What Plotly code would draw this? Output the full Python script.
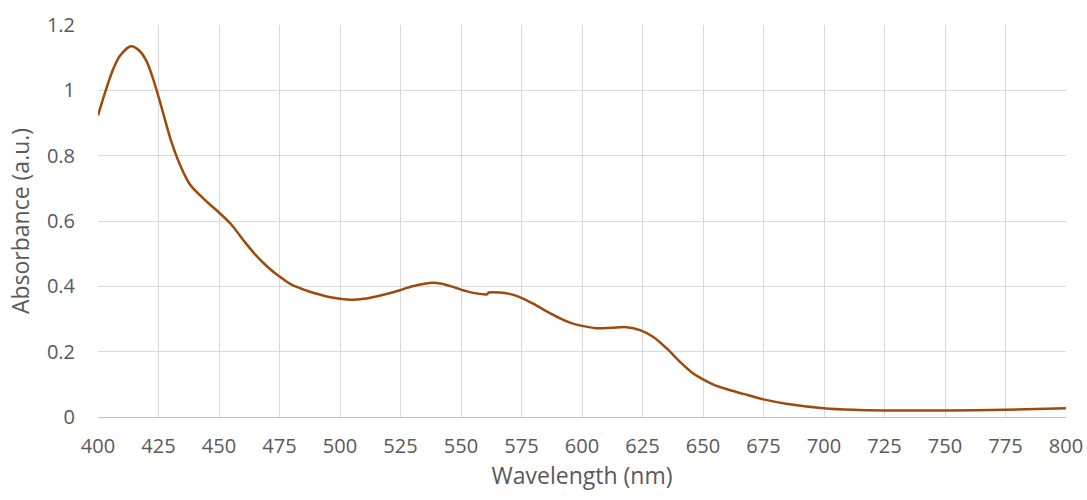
import plotly.graph_objects as go

wavelength = [400, 403, 406, 409, 413.6, 417, 420, 423, 426, 430, 434, 438, 442, 446, 450,
              455, 460, 465, 470, 475, 480, 485, 490, 495, 500, 505, 510, 515, 520,
              525, 530, 535, 538.5, 542, 546, 550, 555, 559, 560.6, 561.5, 566, 570, 574,
              580, 585, 591, 595, 600, 606, 612, 618.4, 624, 629.5, 635, 640.5, 646, 650,
              655, 660, 667, 675, 685, 700, 712, 725, 750, 775, 800]
absorbance = [0.923, 0.995, 1.06, 1.105, 1.135, 1.122, 1.09, 1.03, 0.955, 0.85, 0.77, 0.712, 0.68, 0.652, 0.626,
              0.59, 0.542, 0.497, 0.46, 0.43, 0.405, 0.39, 0.378, 0.368, 0.362, 0.359, 0.362, 0.369, 0.378,
              0.389, 0.4, 0.408, 0.411, 0.408, 0.4, 0.39, 0.38, 0.376, 0.375, 0.381, 0.381, 0.377, 0.368,
              0.346, 0.325, 0.302, 0.289, 0.279, 0.272, 0.273, 0.275, 0.266, 0.245, 0.21, 0.169, 0.133, 0.115,
              0.097, 0.085, 0.07, 0.054, 0.04, 0.027, 0.022, 0.02, 0.02, 0.022, 0.027]

x_ticks = [400, 425, 450, 475, 500, 525, 550, 575, 600, 625, 650, 675, 700, 725, 750, 775, 800]
y_ticks = [0, 0.2, 0.4, 0.6, 0.8, 1.0, 1.2]
y_tick_labels = ["0", "0.2", "0.4", "0.6", "0.8", "1", "1.2"]

fig = go.Figure()
fig.add_trace(go.Scatter(
    x=wavelength, y=absorbance, mode="lines",
    line=dict(color="#9E4A0C", width=2.5, shape="spline", smoothing=0.8),
    showlegend=False, hoverinfo="skip"))

font_family = "Open Sans, Liberation Sans, sans-serif"
fig.update_layout(
    width=1087, height=500,
    margin=dict(l=98, r=21, t=25, b=83),
    paper_bgcolor="white", plot_bgcolor="white",
    font=dict(family=font_family, color="#595959", size=20),
    xaxis=dict(
        range=[400, 800], tickvals=x_ticks, ticktext=[str(t) for t in x_ticks],
        showgrid=True, gridcolor="#D9D9D9", gridwidth=1,
        showline=True, linecolor="#BFBFBF", linewidth=1,
        ticks="", zeroline=False, ticklabelstandoff=11, automargin=False,
        title=dict(text="Wavelength (nm)", font=dict(size=23, color="#595959"), standoff=5),
        tickfont=dict(size=20, color="#595959"),
    ),
    yaxis=dict(
        range=[0, 1.2], tickvals=y_ticks, ticktext=y_tick_labels,
        showgrid=True, gridcolor="#D9D9D9", gridwidth=1,
        showline=False, ticks="", zeroline=False, ticklabelstandoff=22, automargin=False,
        title=dict(text="Absorbance (a.u.)", font=dict(size=23, color="#595959"), standoff=10),
        tickfont=dict(size=20, color="#595959"),
    ),
)

fig.write_html("out.html")
